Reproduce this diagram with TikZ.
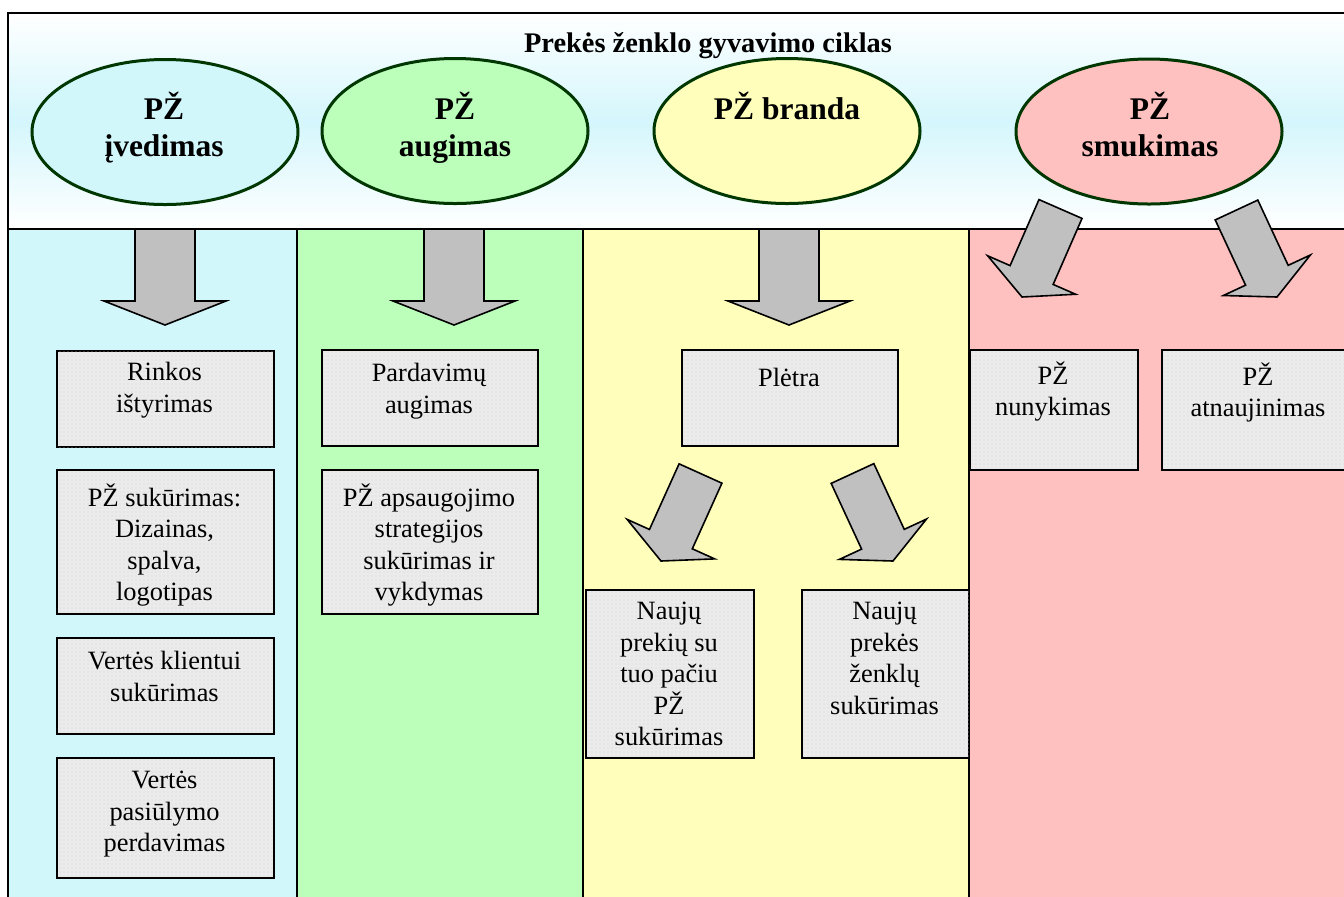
\documentclass[tikz,border=0pt]{standalone}
\usepackage{fontspec}
\setmainfont{Liberation Serif}
\usetikzlibrary{calc,shapes.geometric,patterns}
\definecolor{cyanc}{RGB}{209,247,251}
\definecolor{greenc}{RGB}{187,255,187}
\definecolor{yellowc}{RGB}{255,255,187}
\definecolor{pinkc}{RGB}{255,192,192}
\definecolor{bandc}{RGB}{212,246,252}
\definecolor{edgec}{RGB}{0,55,0}
\definecolor{boxc}{RGB}{235,235,235}
\definecolor{arrc}{RGB}{192,192,192}
\definecolor{dotc}{RGB}{212,212,212}
\pgfdeclarepatternformonly{finedots}{\pgfqpoint{-0.5pt}{-0.5pt}}{\pgfqpoint{0.5pt}{0.5pt}}{\pgfqpoint{2pt}{2pt}}{%
  \pgfpathcircle{\pgfqpoint{0pt}{0pt}}{0.3pt}\pgfusepath{fill}}
\newcommand{\blockarr}[6]{%
  \coordinate (#1-t) at #2;
  \coordinate (#1-p) at #3;
  \coordinate (#1-b) at ($(#1-p)!#5!(#1-t)$);
  \draw[blockarrow] ($(#1-t)!#4!90:(#1-p)$) -- ($(#1-b)!#4!-90:(#1-t)$) -- ($(#1-b)!#6!-90:(#1-t)$) -- (#1-p) -- ($(#1-b)!#6!90:(#1-t)$) -- ($(#1-b)!#4!90:(#1-t)$) -- ($(#1-t)!#4!-90:(#1-p)$) -- cycle;
}
\begin{document}
\begin{tikzpicture}[x=0.5pt,y=-0.5pt,
  phase/.style={ellipse, draw=edgec, line width=1.5pt, minimum width=133pt, minimum height=72.5pt, inner sep=0pt},
  etext/.style={anchor=north, inner sep=0pt, align=center, font=\fontsize{15.75}{18.5}\selectfont\bfseries, execute at begin node=\strut},
  stage/.style={draw=black, fill=boxc, line width=1pt, anchor=north west, inner sep=0pt,
    postaction={pattern=finedots, pattern color=dotc}},
  btext/.style={anchor=north, inner sep=0pt, align=center, font=\fontsize{13.2}{15.75}\selectfont, execute at begin node=\strut},
  blockarrow/.style={draw=black, fill=arrc, line width=0.8pt, line join=miter},
  colline/.style={line width=1pt, draw=black}
]
\useasboundingbox (0,0) rectangle (1344,896);
\clip (0,0) rectangle (1344,896);
\fill[white] (0,0) rectangle (1344,896);
% top band
\shade[top color=white, bottom color=white, middle color=bandc] (8,13) rectangle (1360,229);
\draw[colline] (8,13) rectangle (1360,229);
% columns
\fill[cyanc] (8,229) rectangle (297,900);
\fill[greenc] (297,229) rectangle (583,900);
\fill[yellowc] (583,229) rectangle (969,900);
\fill[pinkc] (969,229) rectangle (1360,900);
\draw[colline] (8,229) -- (1360,229);
\draw[colline] (8,229) -- (8,900);
\draw[colline] (297,229) -- (297,900);
\draw[colline] (583,229) -- (583,900);
\draw[colline] (969,229) -- (969,900);
% title
\node[anchor=base, inner sep=0pt, font=\fontsize{14.2}{17}\selectfont\bfseries] (title) at (708,52) {Prekės ženklo gyvavimo ciklas};
% phases
\node[phase, fill=cyanc] (e1) at (165,132) {};
\node[phase, fill=greenc] (e2) at (455,131) {};
\node[phase, fill=yellowc] (e3) at (787,131) {};
\node[phase, fill=pinkc] (e4) at (1149,131.5) {};
\node[etext] (t1) at (164,92) {PŽ\\įvedimas};
\node[etext] (t2) at (455,92) {PŽ\\augimas};
\node[etext] (t3) at (787,92) {PŽ branda};
\node[etext] (t4) at (1150,92) {PŽ\\smukimas};
% boxes
\node[stage, minimum width=108.5pt, minimum height=48pt] (b1) at (56,350) {};
\node[stage, minimum width=108.5pt, minimum height=72pt] (b2) at (56,469) {};
\node[stage, minimum width=108.5pt, minimum height=48pt] (b3) at (56,637) {};
\node[stage, minimum width=108.5pt, minimum height=60pt] (b4) at (56,757) {};
\node[stage, minimum width=108pt, minimum height=48pt] (b5) at (321,349) {};
\node[stage, minimum width=108pt, minimum height=72pt] (b6) at (321,469) {};
\node[stage, minimum width=108pt, minimum height=48pt] (b7) at (681,349) {};
\node[stage, minimum width=84pt, minimum height=84pt] (b8) at (585,589) {};
\node[stage, minimum width=83.5pt, minimum height=84pt] (b9) at (801,589) {};
\node[stage, minimum width=84pt, minimum height=60pt] (b10) at (969,349) {};
\node[stage, minimum width=97pt, minimum height=60pt] (b11) at (1161,349) {};
\node[btext] (x1) at (164.5,362) {Rinkos\\ištyrimas};
\node[btext] (x2) at (164.5,483) {PŽ sukūrimas:\\Dizainas,\\spalva,\\logotipas};
\node[btext] (x3) at (164.5,651) {Vertės klientui\\sukūrimas};
\node[btext] (x4) at (164.5,771) {Vertės\\pasiūlymo\\perdavimas};
\node[btext] (x5) at (429,363) {Pardavimų\\augimas};
\node[btext] (x6) at (429,483) {PŽ apsaugojimo\\strategijos\\sukūrimas ir\\vykdymas};
\node[btext] (x7) at (789,364) {Plėtra};
\node[btext] (x8) at (669,602) {Naujų\\prekių su\\tuo pačiu\\PŽ\\sukūrimas};
\node[btext] (x9) at (884.5,602) {Naujų\\prekės\\ženklų\\sukūrimas};
\node[btext] (x10) at (1053,361) {PŽ\\nunykimas};
\node[btext] (x11) at (1258,362) {PŽ\\atnaujinimas};
% arrows
\blockarr{a1}{(165,229)}{(165,325)}{15pt}{12pt}{30.5pt}
\blockarr{a2}{(454,229)}{(454,325)}{15pt}{12pt}{30.5pt}
\blockarr{a3}{(789,229)}{(789,325)}{15pt}{12pt}{30.5pt}
\blockarr{a4}{(1060.5,209)}{(1022,297)}{11.75pt}{12pt}{24pt}
\blockarr{a5}{(1236.5,210)}{(1277,297)}{11.75pt}{12pt}{24pt}
\blockarr{a6}{(700.5,473.5)}{(661,561)}{11.75pt}{12pt}{24pt}
\blockarr{a7}{(852.5,473.5)}{(893,561)}{11.75pt}{12pt}{24pt}
\end{tikzpicture}
\end{document}
